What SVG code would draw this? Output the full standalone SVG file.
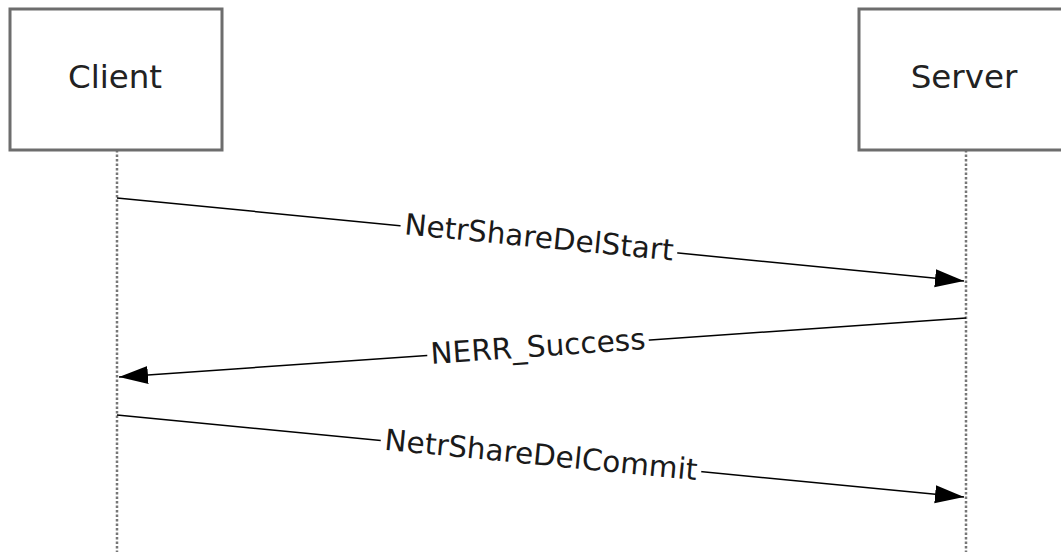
<svg xmlns="http://www.w3.org/2000/svg" width="1061" height="552" viewBox="0 0 1061 552">
<style>
.box{fill:#fff;stroke:#6d6d6d;stroke-width:3}
.life{stroke:#777;stroke-width:2.5;stroke-dasharray:2.5,2;fill:none}
.msg{stroke:#000;stroke-width:1.5;fill:none}
.nt{font-family:"DejaVu Sans",Verdana,sans-serif;font-size:32.5px;fill:#222;text-anchor:middle}
.lt{font-family:"DejaVu Sans",Verdana,sans-serif;font-size:29.5px;fill:#1a1a1a;text-anchor:middle}
.bg{fill:#fff}
</style>
<defs>
<marker id="ah" markerWidth="30" markerHeight="20" refX="29" refY="10" orient="auto" markerUnits="userSpaceOnUse">
<path d="M0,1 L29,10 L0,19 Z" fill="#000"/>
</marker>
</defs>
<rect width="1061" height="552" fill="#fff"/>
<g id="lifelines">
<line class="life" x1="117" y1="150" x2="117" y2="552"/>
<line class="life" x1="966" y1="150" x2="966" y2="552"/>
</g>
<g id="client">
<rect class="box" x="10" y="9" width="212" height="141"/>
<text class="nt" x="115" y="88">Client</text>
</g>
<g id="server">
<rect class="box" x="859" y="9" width="212" height="141"/>
<text class="nt" x="964" y="88">Server</text>
</g>
<g id="connectors">
<line class="msg" x1="117" y1="198" x2="964" y2="281" marker-end="url(#ah)"/>
<g transform="translate(539,238.5) rotate(5.58)">
<rect class="bg" x="-139" y="-14" width="278" height="28"/>
<text class="lt" x="0" y="9">NetrShareDelStart</text>
</g>
<line class="msg" x1="966" y1="318" x2="119" y2="377" marker-end="url(#ah)"/>
<g transform="translate(538,347.5) rotate(-3.97)">
<rect class="bg" x="-111" y="-14" width="222" height="28"/>
<text class="lt" x="0" y="9">NERR_Success</text>
</g>
<line class="msg" x1="117" y1="415" x2="964" y2="497" marker-end="url(#ah)"/>
<g transform="translate(541,456) rotate(5.53)">
<rect class="bg" x="-161" y="-14" width="322" height="28"/>
<text class="lt" x="0" y="9">NetrShareDelCommit</text>
</g>
</g>
</svg>
